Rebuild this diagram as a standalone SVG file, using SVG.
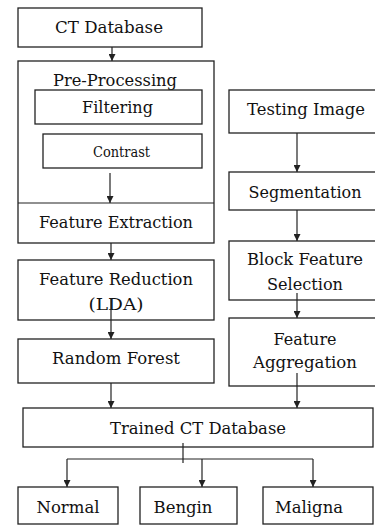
<svg xmlns="http://www.w3.org/2000/svg" width="375" height="526" viewBox="0 0 375 526">
<defs>
<style>
.box{fill:#fff;stroke:#222;stroke-width:1.3}
text{font-family:"DejaVu Serif","Liberation Serif",serif;font-size:17.5px;fill:#111;text-anchor:middle}
.s{font-size:15px}
.c{fill:none;stroke:#222;stroke-width:1.2}
</style>
<marker id="ah" markerWidth="8" markerHeight="7" refX="7" refY="3.5" orient="auto" markerUnits="userSpaceOnUse">
<path d="M0,0 L7,3.5 L0,7 Z" fill="#222"/>
</marker>
</defs>
<rect width="375" height="526" fill="#fff"/>
<g id="ct-database"><rect class="box" x="18" y="8" width="184" height="39"/><text x="109" y="33" textLength="108" lengthAdjust="spacingAndGlyphs">CT Database</text></g>
<g id="pre-processing"><rect class="box" x="18" y="61" width="196" height="182"/><text x="115" y="86" textLength="124" lengthAdjust="spacingAndGlyphs">Pre-Processing</text></g>
<g id="filtering"><rect class="box" x="35" y="90" width="167" height="34"/><text x="117.5" y="113" textLength="71" lengthAdjust="spacingAndGlyphs">Filtering</text></g>
<g id="contrast"><rect class="box" x="43" y="134" width="159" height="34"/><text class="s" x="121.5" y="157" textLength="57" lengthAdjust="spacingAndGlyphs">Contrast</text></g>
<g id="feature-extraction"><line class="c" x1="18" y1="203" x2="214" y2="203"/><text x="116" y="228" textLength="154" lengthAdjust="spacingAndGlyphs">Feature Extraction</text></g>
<g id="feature-reduction"><rect class="box" x="18" y="260" width="196" height="60"/><text x="116" y="285" textLength="154" lengthAdjust="spacingAndGlyphs">Feature Reduction</text><text x="116" y="310" textLength="55" lengthAdjust="spacingAndGlyphs">(LDA)</text></g>
<g id="random-forest"><rect class="box" x="18" y="339" width="196" height="44"/><text x="116" y="364" textLength="128" lengthAdjust="spacingAndGlyphs">Random Forest</text></g>
<g id="testing-image"><rect class="box" x="229" y="90" width="151" height="43"/><text x="306" y="115" textLength="118" lengthAdjust="spacingAndGlyphs">Testing Image</text></g>
<g id="segmentation"><rect class="box" x="229" y="172" width="151" height="38"/><text x="305" y="198" textLength="113" lengthAdjust="spacingAndGlyphs">Segmentation</text></g>
<g id="block-feature-selection"><rect class="box" x="229" y="241" width="151" height="59"/><text x="305" y="265" textLength="116" lengthAdjust="spacingAndGlyphs">Block Feature</text><text x="305" y="290" textLength="76" lengthAdjust="spacingAndGlyphs">Selection</text></g>
<g id="feature-aggregation"><rect class="box" x="229" y="318" width="151" height="68"/><text x="305" y="345" textLength="63" lengthAdjust="spacingAndGlyphs">Feature</text><text x="305" y="368" textLength="104" lengthAdjust="spacingAndGlyphs">Aggregation</text></g>
<g id="trained-ct-database"><rect class="box" x="23" y="408" width="350" height="39"/><text x="198" y="434" textLength="176" lengthAdjust="spacingAndGlyphs">Trained CT Database</text></g>
<g id="normal"><rect class="box" x="18" y="487" width="100" height="37"/><text x="68" y="513" textLength="63" lengthAdjust="spacingAndGlyphs">Normal</text></g>
<g id="bengin"><rect class="box" x="140" y="487" width="97" height="37"/><text x="183" y="513" textLength="59" lengthAdjust="spacingAndGlyphs">Bengin</text></g>
<g id="maligna"><rect class="box" x="263" y="487" width="110" height="37"/><text x="309" y="513" textLength="68" lengthAdjust="spacingAndGlyphs">Maligna</text></g>
<g id="connectors">
<line class="c" x1="112" y1="47" x2="112" y2="61" marker-end="url(#ah)"/>
<line class="c" x1="110" y1="173" x2="110" y2="203" marker-end="url(#ah)"/>
<line class="c" x1="111" y1="243" x2="111" y2="260" marker-end="url(#ah)"/>
<line class="c" x1="111" y1="298" x2="111" y2="339" marker-end="url(#ah)"/>
<line class="c" x1="111" y1="383" x2="111" y2="408" marker-end="url(#ah)"/>
<line class="c" x1="297" y1="133" x2="297" y2="172" marker-end="url(#ah)"/>
<line class="c" x1="297" y1="210" x2="297" y2="241" marker-end="url(#ah)"/>
<line class="c" x1="297" y1="293" x2="297" y2="318" marker-end="url(#ah)"/>
<line class="c" x1="297" y1="373" x2="297" y2="408" marker-end="url(#ah)"/>
<line class="c" x1="183" y1="443" x2="183" y2="463"/>
<line class="c" x1="67" y1="459" x2="313" y2="459"/>
<line class="c" x1="67" y1="459" x2="67" y2="487" marker-end="url(#ah)"/>
<line class="c" x1="202" y1="459" x2="202" y2="487" marker-end="url(#ah)"/>
<line class="c" x1="313" y1="459" x2="313" y2="487" marker-end="url(#ah)"/>
</g>
</svg>
